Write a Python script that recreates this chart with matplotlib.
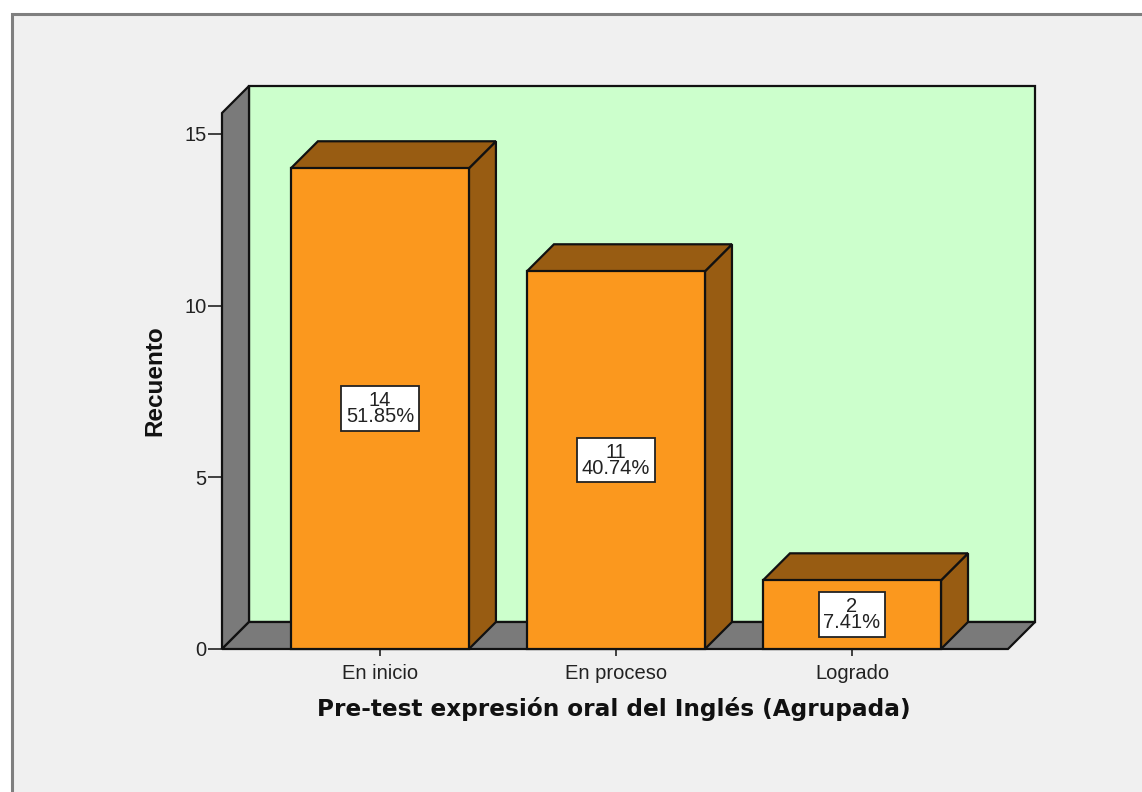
import matplotlib
matplotlib.use('Agg')
from matplotlib import pyplot as plt
from matplotlib.patches import Polygon, Rectangle

categorias = ['En inicio', 'En proceso', 'Logrado']
recuento = [14, 11, 2]
porcentaje = ['51.85%', '40.74%', '7.41%']
y_ticks = [0, 5, 10, 15]

W, H = 1142, 792
plt.rcParams['font.family'] = ['Liberation Sans', 'DejaVu Sans']

fig = plt.figure(figsize=(W / 100, H / 100), dpi=100, facecolor='white')

# marco gris de fondo, por debajo de los ejes
fig.add_artist(Rectangle((12 / W, -0.05), 1.1, 1 - 14 / H + 0.05, transform=fig.transFigure,
                         facecolor='#f0f0f0', edgecolor='#7f7f7f', linewidth=2.2, zorder=-1))

# plano frontal del eje, la profundidad sale hacia arriba a la derecha
ax = fig.add_axes([222 / W, 1 - 649 / H, (1008 - 222) / W, (649 - 113) / H])
ax.set_xlim(-0.669, 2.661)
ax.set_ylim(0, 15.61)
ax.patch.set_visible(False)
for s in ax.spines.values():
    s.set_visible(False)

ancho = 178 / 236
dx = 27 / 236
dy = 27 / 34.33
x0, x1 = ax.get_xlim()
y0, y1 = ax.get_ylim()
borde = dict(edgecolor='#111111', linewidth=1.6, joinstyle='miter', clip_on=False)


def cara(puntos, color, z):
    ax.add_patch(Polygon(puntos, closed=True, facecolor=color, zorder=z, **borde))


# paredes
cara([(x0 + dx, y0 + dy), (x1 + dx, y0 + dy), (x1 + dx, y1 + dy), (x0 + dx, y1 + dy)], '#ccffcc', 1)
cara([(x0, y0), (x0 + dx, y0 + dy), (x0 + dx, y1 + dy), (x0, y1)], '#7a7a7a', 2)
cara([(x0, y0), (x1, y0), (x1 + dx, y0 + dy), (x0 + dx, y0 + dy)], '#7a7a7a', 2)

# barras
for i, v in enumerate(recuento):
    a = i - ancho / 2
    b = i + ancho / 2
    cara([(b, 0), (b + dx, dy), (b + dx, v + dy), (b, v)], '#985c12', 3)
    cara([(a, v), (b, v), (b + dx, v + dy), (a + dx, v + dy)], '#985c12', 3)
    cara([(a, 0), (b, 0), (b, v), (a, v)], '#fb981e', 4)
    ax.text(i, v / 2, f'{v}\n{porcentaje[i]}', ha='center', va='center', ma='center',
            fontsize=14.5, linespacing=0.8, color='#222222', zorder=6,
            bbox=dict(boxstyle='square,pad=0.24', facecolor='white', edgecolor='#222222', linewidth=1.3))

ax.set_xticks(range(len(categorias)))
ax.set_xticklabels(categorias, fontsize=14.5, color='#222222')
ax.set_yticks(y_ticks)
ax.tick_params(axis='x', length=5, width=1.3, pad=6, color='#333333')
ax.tick_params(axis='y', length=10, width=1.3, pad=1, color='#333333', labelsize=14.5, labelcolor='#222222')

fig.text(614 / W, 1 - 709 / H, 'Pre-test expresión oral del Inglés (Agrupada)', ha='center', va='center',
         fontsize=16.7, fontweight='bold', family='DejaVu Sans', color='#111111')
fig.text(155 / W, 1 - 381 / H, 'Recuento', rotation=90, ha='center', va='center',
         fontsize=17.5, fontweight='bold', color='#111111')

fig.savefig('out.png', dpi=100)
